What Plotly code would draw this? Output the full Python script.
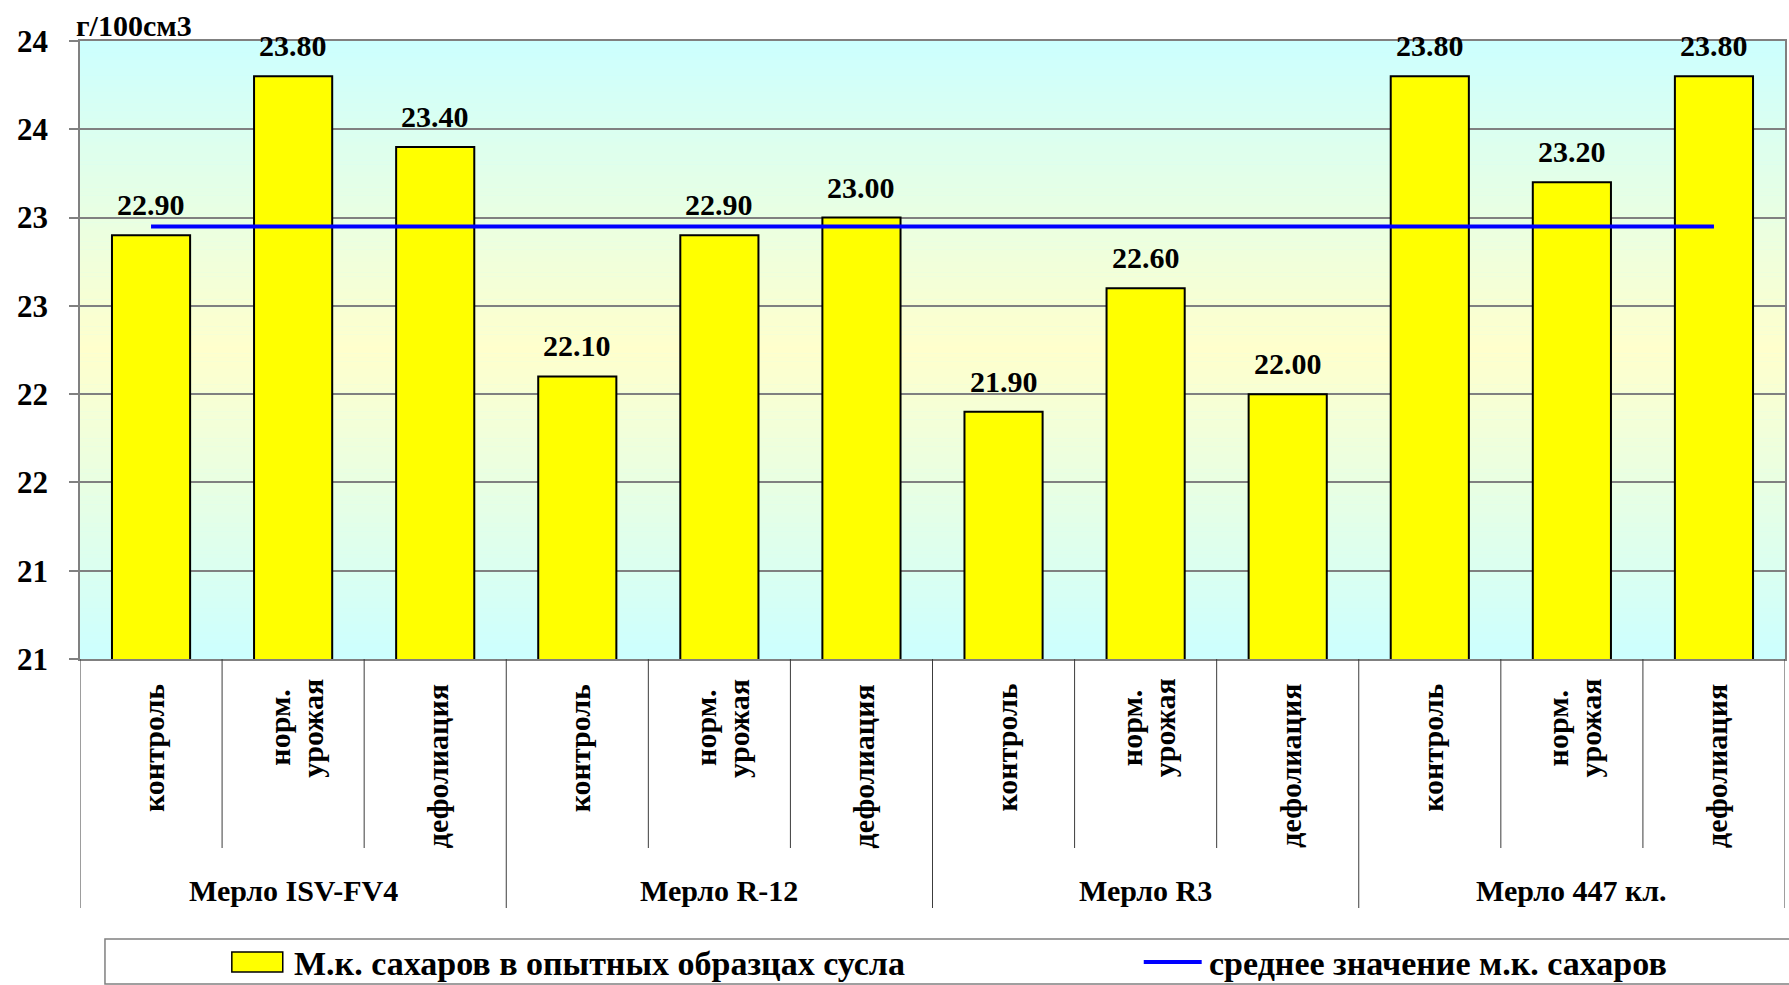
import plotly.graph_objects as go

# --- data -------------------------------------------------------------
varieties = ["Мерло ISV-FV4", "Мерло R-12", "Мерло R3", "Мерло 447 кл."]
treatments = ["контроль", "норм. урожая", "дефолиация"]
sugar = [22.90, 23.80, 23.40,
         22.10, 22.90, 23.00,
         21.90, 22.60, 22.00,
         23.80, 23.20, 23.80]
sugar_mean = [22.95, 22.95, 22.95, 22.95, 22.95, 22.95,
              22.95, 22.95, 22.95, 22.95, 22.95, 22.95]
y_tickvals = [20.5, 21.0, 21.5, 22.0, 22.5, 23.0, 23.5, 24.0]
y_ticktext = ["21", "21", "22", "22", "23", "23", "24", "24"]
unit_label = "г/100см3"
bar_name = "М.к. сахаров в опытных образцах сусла"
mean_name = "среднее значение м.к. сахаров"

# --- page geometry (pixels) ---------------------------------------------
W, H = 1789, 985
PL, PR, PT, PB = 80, 1787, 41, 659
FONT = "'Liberation Serif', 'Times New Roman', 'DejaVu Serif', serif"


def px(x):
    return (x - PL) / (PR - PL)


def py(y):
    return (PB - y) / (PB - PT)


n_groups = len(varieties)
n_sub = len(treatments)
positions = list(range(n_groups * n_sub))
y_lo, y_hi = y_tickvals[0], y_tickvals[-1]

shapes = []

# background: light cyan at the edges, light yellow in the middle
bands = 160
for i in range(bands):
    s = (i + 0.5) / bands
    t = 1 - abs(2 * s - 1)
    r = round(204 + 51 * t)
    b = round(255 - 51 * t)
    shapes.append(dict(
        type="rect", xref="paper", yref="y", layer="below",
        x0=0, x1=1,
        y0=y_lo + (y_hi - y_lo) * i / bands,
        y1=y_lo + (y_hi - y_lo) * (i + 1) / bands + 0.002,
        fillcolor=f"rgb({r},255,{b})", line=dict(width=0),
    ))

# category boundaries below the axis
for k in range(len(positions) + 1):
    long_line = k % n_sub == 0
    shapes.append(dict(
        type="line", xref="x", yref="paper",
        x0=k - 0.5, x1=k - 0.5, y0=0, y1=py(908 if long_line else 848),
        line=dict(color="#3c3c3c", width=1),
    ))

# legend frame and keys
shapes.append(dict(type="rect", xref="paper", yref="paper",
                   x0=px(105), x1=px(1800), y0=py(984), y1=py(939),
                   line=dict(color="#808080", width=1.5), fillcolor="white"))
shapes.append(dict(type="rect", xref="paper", yref="paper",
                   x0=px(232), x1=px(283), y0=py(972), y1=py(952),
                   line=dict(color="black", width=1.5), fillcolor="#FFFF00"))
shapes.append(dict(type="line", xref="paper", yref="paper",
                   x0=px(1145), x1=px(1203), y0=py(962), y1=py(962),
                   line=dict(color="#0000FF", width=4)))

bold = dict(family=FONT, size=30, color="black", weight="bold")
legend_font = dict(family=FONT, size=34, color="black", weight="bold")

annotations = []

# value labels above the bars
for xpos, v in zip(positions, sugar):
    annotations.append(dict(
        x=xpos, y=v, xref="x", yref="y", text=f"{v:.2f}",
        showarrow=False, xanchor="center", yanchor="bottom", yshift=12,
        font=bold))

# treatment labels, rotated
for g in range(n_groups):
    for j, label in enumerate(treatments):
        xpos = positions[g * n_sub + j]
        words = label.split(" ")
        if len(words) == 1:
            annotations.append(dict(
                x=xpos, y=py(682), xref="x", yref="paper",
                text=label, textangle=-90, showarrow=False,
                xanchor="center", yanchor="top", xshift=2, font=bold))
        else:
            for w_i, word in enumerate(words):
                annotations.append(dict(
                    x=xpos, y=py(728), xref="x", yref="paper",
                    text=word, textangle=-90, showarrow=False,
                    xanchor="center", yanchor="middle",
                    xshift=2 + (w_i - (len(words) - 1) / 2) * 33, font=bold))

# variety labels
for g, name in enumerate(varieties):
    annotations.append(dict(
        x=positions[g * n_sub + 1], y=py(890), xref="x", yref="paper",
        text=name, showarrow=False, xanchor="center", yanchor="middle",
        font=bold))

# unit label over the value axis
annotations.append(dict(
    x=px(74), y=py(25), xref="paper", yref="paper", text=unit_label,
    showarrow=False, xanchor="left", yanchor="middle",
    font=dict(family=FONT, size=30, color="black", weight="bold")))

# legend texts
annotations.append(dict(
    x=px(292), y=py(963), xref="paper", yref="paper", text=bar_name,
    showarrow=False, xanchor="left", yanchor="middle", font=legend_font))
annotations.append(dict(
    x=px(1208), y=py(963), xref="paper", yref="paper", text=mean_name,
    showarrow=False, xanchor="left", yanchor="middle", font=legend_font))

fig = go.Figure()
fig.add_trace(go.Bar(
    x=positions, y=sugar, name=bar_name, width=0.55,
    marker=dict(color="#FFFF00", line=dict(color="black", width=2)),
    showlegend=False, cliponaxis=True,
))
fig.add_trace(go.Scatter(
    x=positions, y=sugar_mean, name=mean_name, mode="lines",
    line=dict(color="#0000FF", width=4), showlegend=False,
))

fig.update_layout(
    width=W, height=H,
    margin=dict(l=PL, r=W - PR, t=PT, b=H - PB, pad=0),
    paper_bgcolor="white", plot_bgcolor="#CCFFFF",
    font=dict(family=FONT, color="black"),
    shapes=shapes, annotations=annotations, showlegend=False,
    bargap=0.45,
)
fig.update_xaxes(
    range=[-0.5, len(positions) - 0.5], showticklabels=False, ticks="",
    showgrid=False, zeroline=False, showline=True, mirror=True,
    linecolor="#808080", linewidth=1.5,
)
fig.update_yaxes(
    range=[y_lo, y_hi], tickvals=y_tickvals, ticktext=y_ticktext,
    ticks="outside", ticklen=9, tickcolor="#808080", tickwidth=1.5,
    ticklabelstandoff=15,
    tickfont=dict(family=FONT, size=31, color="black", weight="bold"),
    showgrid=True, gridcolor="#808080", gridwidth=1.5,
    zeroline=False, showline=True, mirror=True, linecolor="#808080",
    linewidth=1.5,
)

fig.write_html("out.html")
